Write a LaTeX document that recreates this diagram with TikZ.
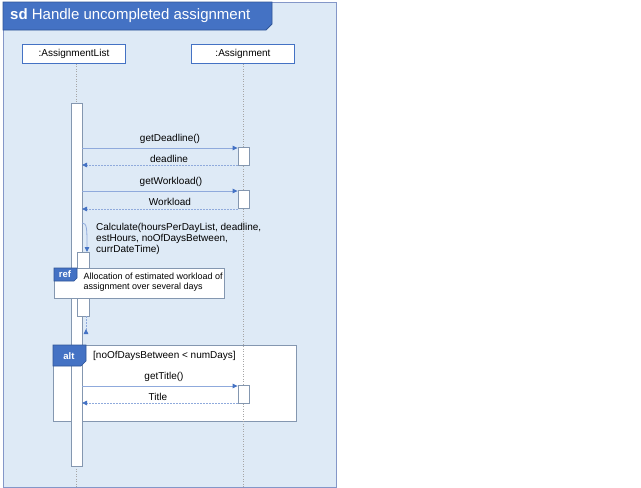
\documentclass[tikz,border=0pt]{standalone}
\usepackage{fontspec}
\setmainfont{Liberation Sans}
\usetikzlibrary{arrows.meta}
\definecolor{framefill}{HTML}{DEEAF6}
\definecolor{frameborder}{HTML}{8497C8}
\definecolor{tabblue}{HTML}{4472C4}
\definecolor{tabborder}{HTML}{2F5597}
\definecolor{msgline}{HTML}{8FAADC}
\definecolor{actborder}{HTML}{8497B0}
\definecolor{lifegray}{HTML}{A6A6A6}
\tikzset{
  lifebox/.style={draw=tabblue, fill=white, line width=0.8pt, minimum width=103pt, minimum height=19pt, inner sep=0pt, font=\fontsize{10}{12}\selectfont},
  actbar/.style={draw=actborder, fill=white, line width=0.8pt, inner sep=0pt},
  lifeline/.style={draw=lifegray, line width=0.5pt, dash pattern=on 1pt off 1.5pt},
  msg/.style={draw=msgline, line width=0.8pt, -{Triangle[length=5pt,width=4.5pt,fill=tabblue,color=tabblue]}},
  retmsg/.style={draw=msgline, line width=0.8pt, dash pattern=on 1.5pt off 1.5pt, -{Triangle[length=5pt,width=4.5pt,fill=tabblue,color=tabblue]}},
  lbl/.style={font=\fontsize{10}{12}\selectfont, inner sep=0pt},
  tabtext/.style={text=white, font=\bfseries\fontsize{9.5}{10}\selectfont, inner sep=0pt},
}
\begin{document}
\begin{tikzpicture}[x=1pt,y=-1pt]
\useasboundingbox (0,0) rectangle (641,488);
% outer frame
\path[fill=framefill, draw=frameborder, line width=1pt] (3,2) rectangle (336,487);
\path[fill=tabblue, draw=tabborder, line width=0.8pt] (3,2) -- (272,2) -- (272,24) -- (266,30) -- (3,30) -- cycle;
\node[anchor=west, text=white, inner sep=0pt, font=\fontsize{15}{18}\selectfont] (title) at (10,16) {\textbf{sd} Handle uncompleted assignment};
% alt frame body
\node[draw=actborder, fill=white, line width=0.8pt, minimum width=243pt, minimum height=76pt, inner sep=0pt, anchor=north west] (altbox) at (53,345) {};
% lifeline heads
\node[lifebox] (L1) at (74,54) {:AssignmentList};
\node[lifebox] (L2) at (243,54) {:Assignment};
\coordinate (L1end) at (76,487);
\coordinate (L2end) at (243,487);
\draw[lifeline] (L1.south -| L1end) -- (L1end);
\draw[lifeline] (L2.south -| L2end) -- (L2end);
% main activation
\node[actbar, minimum width=11pt, minimum height=363pt] (bar1) at (76.5,284.5) {};
% assignment activations
\node[actbar, minimum width=11pt, minimum height=18pt] (a1) at (243.5,156.5) {};
\node[actbar, minimum width=11pt, minimum height=18pt] (a2) at (243.5,199.5) {};
\node[actbar, minimum width=11pt, minimum height=18pt] (a3) at (243.5,394) {};
% nested activation
\node[actbar, minimum width=12pt, minimum height=64pt] (n1) at (83,284) {};
% messages
\coordinate (m1s) at (82,148);
\coordinate (r1e) at (82,165);
\coordinate (m2s) at (82,191);
\coordinate (r2e) at (82,209);
\coordinate (m3s) at (82,386);
\coordinate (r3e) at (82,403);
\draw[msg] (m1s) -- (m1s -| a1.west);
\node[lbl] (t1) at (170,139) {getDeadline()};
\draw[retmsg] (r1e -| a1.west) -- (r1e);
\node[lbl] (t2) at (169,159) {deadline};
\draw[msg] (m2s) -- (m2s -| a2.west);
\node[lbl] (t3) at (171,182) {getWorkload()};
\draw[retmsg] (r2e -| a2.west) -- (r2e);
\node[lbl] (t4) at (170,202) {Workload};
% self call
\coordinate (sc) at (82,223);
\coordinate (sce) at (87,252);
\draw[msg] (sc) .. controls (87,223) and (87,228) .. (sce);
\node[anchor=north west, align=left, inner sep=0pt, font=\fontsize{10}{10.8}\selectfont] (calc) at (96,223.5) {Calculate(hoursPerDayList, deadline,\\estHours, noOfDaysBetween,\\currDateTime)};
% return from nested
\coordinate (nr) at (86,316);
\coordinate (nre) at (86,334);
\draw[draw=msgline, line width=0.8pt, dash pattern=on 1.5pt off 1.5pt, -{Triangle[reversed,length=5pt,width=4.5pt,fill=tabblue,color=tabblue]}] (nr) -- (nre);
% ref box
\node[draw=actborder, fill=white, line width=0.8pt, minimum width=170pt, minimum height=30pt, inner sep=0pt, anchor=north west] (refbox) at (54,268) {};
\path[fill=tabblue, draw=tabborder, line width=0.6pt] (refbox.north west) -- (77,268) -- (77,278) -- (74,281) -- (54,281) -- cycle;
\node[tabtext] (reft) at (65,274.5) {ref};
\node[anchor=north west, align=left, inner sep=0pt, font=\fontsize{9}{10}\selectfont] (refl) at (83.5,272.5) {Allocation of estimated workload of\\assignment over several days};
% alt
\path[fill=tabblue, draw=tabborder, line width=0.6pt] (altbox.north west) -- (86,345) -- (86,361) -- (81,366) -- (53,366) -- cycle;
\node[tabtext] (altt) at (69,356) {alt};
\node[lbl, anchor=west] (guard) at (93,356) {[noOfDaysBetween < numDays]};
\draw[msg] (m3s) -- (m3s -| a3.west);
\node[lbl] (t5) at (164,377) {getTitle()};
\draw[retmsg] (r3e -| a3.west) -- (r3e);
\node[lbl] (t6) at (158,397) {Title};
\end{tikzpicture}
\end{document}
